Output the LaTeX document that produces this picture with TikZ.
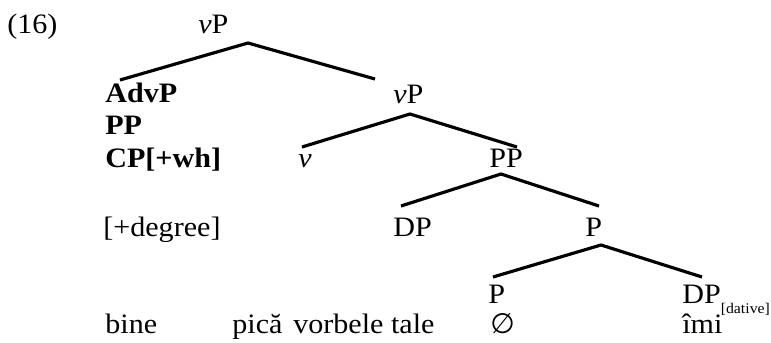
\documentclass[tikz,border=0pt]{standalone}
\usepackage{fontspec}
\setmainfont{Liberation Serif}[FakeStretch=1.07]
\newfontfamily\emptysetfont{DejaVu Sans}
\usepackage{tikz}

\tikzset{
  lbl/.style={anchor=base west,inner sep=0pt,font=\fontsize{16}{18}\selectfont},
  branch/.style={line width=1.8pt}
}

\begin{document}
\begin{tikzpicture}[x=0.2mm,y=-0.2mm]
\useasboundingbox (0,0) rectangle (771,342);
% labels
\node[lbl] (ex) at (7,33) {(16)};
\node[lbl] (vPa) at (198,33) {\textit{v}P};
\node[lbl] (AdvP) at (105,102) {\textbf{AdvP}};
\node[lbl] (PPa) at (105,134) {\textbf{PP}};
\node[lbl] (CPwh) at (105,167) {\textbf{CP[+wh]}};
\node[lbl] (vPb) at (393,103) {\textit{v}P};
\node[lbl] (v) at (298,167) {\textit{v}};
\node[lbl] (PPb) at (489,167) {PP};
\node[lbl] (deg) at (103,236) {[+degree]};
\node[lbl] (DPa) at (393,236) {DP};
\node[lbl] (Pa) at (585,236) {P};
\node[lbl] (Pb) at (488,303) {P};
\node[lbl] (DPb) at (682,303) {DP\raisebox{-2mm}{\fontsize{8.4}{10}\selectfont[dative]}};
% words
\node[lbl] (bine) at (105,333) {bine};
\node[lbl] (pica) at (232,333) {pică};
\node[lbl] (vorbele) at (293,333) {vorbele tale};
\node[lbl] (zero) at (490,333) {\emptysetfont ∅};
\node[lbl] (imi) at (682,333) {îmi};
% branch points
\coordinate (vPa-b) at (248,43);
\coordinate (AdvP-t) at (120,80);
\coordinate (vPb-t) at (375,79);
\coordinate (vPb-b) at (410,114);
\coordinate (v-t) at (302,147);
\coordinate (PPb-t) at (517,147);
\coordinate (PPb-b) at (501,174);
\coordinate (DPa-t) at (401,206);
\coordinate (Pa-t) at (599,206);
\coordinate (Pa-b) at (601,245);
\coordinate (Pb-t) at (493,277);
\coordinate (DPb-t) at (702,277);
% tree
\draw[branch] (AdvP-t) -- (vPa-b) -- (vPb-t);
\draw[branch] (v-t) -- (vPb-b) -- (PPb-t);
\draw[branch] (DPa-t) -- (PPb-b) -- (Pa-t);
\draw[branch] (Pb-t) -- (Pa-b) -- (DPb-t);
\end{tikzpicture}
\end{document}
